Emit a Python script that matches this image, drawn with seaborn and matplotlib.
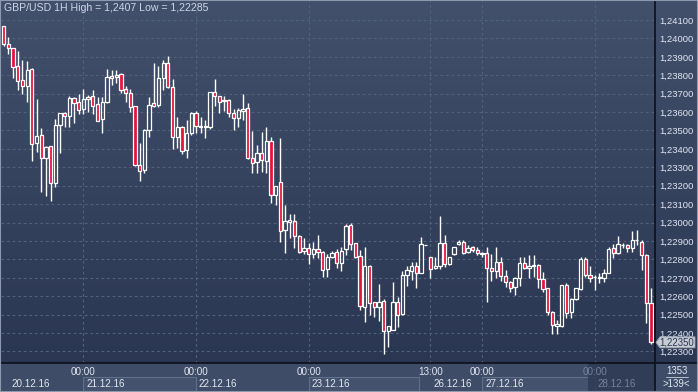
import numpy as np
import pandas as pd
import matplotlib
matplotlib.use("Agg")
import matplotlib.pyplot as plt
import seaborn as sns
from matplotlib.patches import Rectangle, Polygon
from matplotlib.lines import Line2D

# ---------------- data (GBP/USD, 1H candles) ----------------
opens = [1.24065, 1.23968, 1.23946, 1.23852, 1.23773, 1.23740, 1.23834, 1.23430, 1.23476, 1.23349,
         1.23416, 1.23213, 1.23530, 1.23595, 1.23577, 1.23675, 1.23653, 1.23615, 1.23671, 1.23687,
         1.23642, 1.23561, 1.23656, 1.23798, 1.23792, 1.23807, 1.23724, 1.23702, 1.23633, 1.23313,
         1.23285, 1.23503, 1.23651, 1.23638, 1.23783, 1.23865, 1.23735, 1.23463, 1.23521, 1.23394,
         1.23488, 1.23593, 1.23521, 1.23517, 1.23521, 1.23707, 1.23687, 1.23660, 1.23666, 1.23597,
         1.23566, 1.23608, 1.23620, 1.23349, 1.23327, 1.23379, 1.23336, 1.23443, 1.23150, 1.23219,
         1.22960, 1.23005, 1.23009, 1.22927, 1.22846, 1.22864, 1.22828, 1.22855, 1.22839, 1.22748,
         1.22815, 1.22839, 1.22782, 1.22857, 1.22987, 1.22888, 1.22820, 1.22543, 1.22766, 1.22567,
         1.22543, 1.22574, 1.22411, 1.22417, 1.22570, 1.22502, 1.22715, 1.22737, 1.22766, 1.22728,
         1.22876, 1.22811, 1.22752, 1.22764, 1.22891, 1.22774, 1.22828, 1.22882, 1.22896, 1.22839,
         1.22866, 1.22851, 1.22828, 1.22833, 1.22755, 1.22737, 1.22784, 1.22711, 1.22676, 1.22649,
         1.22701, 1.22779, 1.22755, 1.22765, 1.22770, 1.22694, 1.22643, 1.22516, 1.22440, 1.22440,
         1.22661, 1.22516, 1.22583, 1.22639, 1.22802, 1.22715, 1.22705, 1.22701, 1.22697, 1.22728,
         1.22860, 1.22833, 1.22876, 1.22878, 1.22864, 1.22903, 1.22896, 1.22824, 1.22562]
highs = [1.24070, 1.24008, 1.23950, 1.23932, 1.23883, 1.23877, 1.23838, 1.23669, 1.23512, 1.23415,
         1.23418, 1.23562, 1.23595, 1.23602, 1.23687, 1.23684, 1.23698, 1.23725, 1.23693, 1.23720,
         1.23684, 1.23684, 1.23832, 1.23829, 1.23829, 1.23814, 1.23742, 1.23724, 1.23635, 1.23430,
         1.23506, 1.23684, 1.23868, 1.23850, 1.23883, 1.23905, 1.23778, 1.23575, 1.23524, 1.23557,
         1.23602, 1.23608, 1.23575, 1.23557, 1.23708, 1.23780, 1.23690, 1.23687, 1.23671, 1.23615,
         1.23620, 1.23698, 1.23648, 1.23497, 1.23421, 1.23490, 1.23521, 1.23466, 1.23200, 1.23458,
         1.23095, 1.23045, 1.23045, 1.22933, 1.22915, 1.22888, 1.22896, 1.22933, 1.22846, 1.22828,
         1.22846, 1.22857, 1.22869, 1.22991, 1.22996, 1.22891, 1.22851, 1.22869, 1.22770, 1.22569,
         1.22665, 1.22585, 1.22441, 1.22676, 1.22598, 1.22737, 1.22766, 1.22788, 1.22788, 1.22923,
         1.22880, 1.22813, 1.22815, 1.23037, 1.22933, 1.22814, 1.22867, 1.22905, 1.22905, 1.22878,
         1.22875, 1.22869, 1.22842, 1.22869, 1.22828, 1.22869, 1.22815, 1.22742, 1.22683, 1.22706,
         1.22815, 1.22815, 1.22824, 1.22824, 1.22774, 1.22730, 1.22645, 1.22520, 1.22471, 1.22662,
         1.22670, 1.22590, 1.22645, 1.22815, 1.22815, 1.22764, 1.22715, 1.22725, 1.22748, 1.22869,
         1.22882, 1.22929, 1.22888, 1.22882, 1.22954, 1.22960, 1.22905, 1.22828, 1.22643]
lows = [1.23959, 1.23914, 1.23787, 1.23720, 1.23700, 1.23653, 1.23336, 1.23385, 1.23168, 1.23144,
        1.23119, 1.23195, 1.23376, 1.23521, 1.23521, 1.23539, 1.23591, 1.23588, 1.23602, 1.23588,
        1.23552, 1.23488, 1.23648, 1.23747, 1.23756, 1.23705, 1.23656, 1.23602, 1.23307, 1.23227,
        1.23268, 1.23466, 1.23626, 1.23626, 1.23720, 1.23729, 1.23400, 1.23403, 1.23372, 1.23349,
        1.23476, 1.23485, 1.23485, 1.23461, 1.23507, 1.23635, 1.23593, 1.23606, 1.23575, 1.23503,
        1.23517, 1.23557, 1.23345, 1.23271, 1.23271, 1.23276, 1.23271, 1.23108, 1.23095, 1.22893,
        1.22833, 1.22916, 1.22860, 1.22833, 1.22828, 1.22775, 1.22806, 1.22806, 1.22703, 1.22706,
        1.22806, 1.22755, 1.22737, 1.22824, 1.22851, 1.22806, 1.22525, 1.22462, 1.22498, 1.22489,
        1.22466, 1.22285, 1.22326, 1.22414, 1.22435, 1.22500, 1.22657, 1.22688, 1.22646, 1.22725,
        1.22876, 1.22697, 1.22748, 1.22748, 1.22760, 1.22770, 1.22826, 1.22878, 1.22828, 1.22833,
        1.22842, 1.22824, 1.22815, 1.22570, 1.22683, 1.22697, 1.22683, 1.22652, 1.22625, 1.22607,
        1.22657, 1.22748, 1.22697, 1.22706, 1.22643, 1.22625, 1.22498, 1.22393, 1.22393, 1.22435,
        1.22484, 1.22484, 1.22580, 1.22634, 1.22706, 1.22679, 1.22634, 1.22670, 1.22679, 1.22725,
        1.22806, 1.22828, 1.22864, 1.22839, 1.22839, 1.22878, 1.22743, 1.22453, 1.22339]
closes = [1.23968, 1.23946, 1.23846, 1.23767, 1.23740, 1.23829, 1.23425, 1.23470, 1.23349, 1.23412,
          1.23213, 1.23530, 1.23593, 1.23577, 1.23675, 1.23648, 1.23613, 1.23669, 1.23684, 1.23635,
          1.23553, 1.23656, 1.23789, 1.23783, 1.23801, 1.23720, 1.23702, 1.23629, 1.23313, 1.23282,
          1.23503, 1.23638, 1.23633, 1.23783, 1.23865, 1.23735, 1.23463, 1.23521, 1.23390, 1.23488,
          1.23593, 1.23524, 1.23524, 1.23524, 1.23707, 1.23687, 1.23653, 1.23666, 1.23593, 1.23566,
          1.23611, 1.23615, 1.23349, 1.23322, 1.23379, 1.23340, 1.23443, 1.23150, 1.23199, 1.22954,
          1.23009, 1.23014, 1.22927, 1.22842, 1.22860, 1.22828, 1.22857, 1.22842, 1.22743, 1.22813,
          1.22833, 1.22779, 1.22847, 1.22983, 1.22882, 1.22815, 1.22547, 1.22766, 1.22562, 1.22540,
          1.22567, 1.22411, 1.22440, 1.22570, 1.22498, 1.22715, 1.22741, 1.22766, 1.22725, 1.22882,
          1.22880, 1.22748, 1.22764, 1.22888, 1.22774, 1.22813, 1.22866, 1.22896, 1.22833, 1.22860,
          1.22851, 1.22833, 1.22833, 1.22752, 1.22737, 1.22784, 1.22710, 1.22676, 1.22643, 1.22701,
          1.22779, 1.22752, 1.22764, 1.22767, 1.22692, 1.22638, 1.22513, 1.22444, 1.22448, 1.22661,
          1.22511, 1.22583, 1.22643, 1.22802, 1.22715, 1.22697, 1.22707, 1.22706, 1.22728, 1.22857,
          1.22833, 1.22882, 1.22880, 1.22860, 1.22905, 1.22907, 1.22824, 1.22562, 1.22350]

price_ticks = [1.241, 1.240, 1.239, 1.238, 1.237, 1.236, 1.235, 1.234, 1.233, 1.232,
               1.231, 1.230, 1.229, 1.228, 1.227, 1.226, 1.225, 1.224, 1.223]
grid_idx = [17, 41, 65, 91, 102, 126]
time_labels = ["00:00", "00:00", "00:00", "13:00", "00:00", "00:00"]
date_labels = ["20.12.16", "21.12.16", "22.12.16", "23.12.16", "26.12.16", "27.12.16", "28.12.16"]
date_starts = [1, 17, 41, 65, 91, 102, 126]
date_ends = [17, 41, 65, 88.5, 102, 126, 138.87]
boxed_dates = [False, True, False, True, False, True, False]
title_text = "GBP/USD 1H High = 1,2407 Low = 1,22285"
counter_top = "1353"
counter_bottom = ">139<"

df = pd.DataFrame({"open": opens, "high": highs, "low": lows, "close": closes})
df["idx"] = np.arange(len(df))

# ---------------- style ----------------
sns.set_theme(style="dark")
plt.rcParams["font.family"] = ["Liberation Sans", "DejaVu Sans"]

W, H = 698, 392
fig = plt.figure(figsize=(W / 100, H / 100), dpi=100)
fig.patch.set_facecolor("#34415c")

def fx(px):
    return px / W

def fy(py):
    return 1 - py / H

# full-figure background gradient
bg = fig.add_axes([0, 0, 1, 1], zorder=0)
grad = np.linspace(0, 1, 256).reshape(-1, 1)
top = np.array([66, 80, 108]) / 255
bot = np.array([40, 52, 80]) / 255
img = top[None, None, :] * (1 - grad[:, :, None]) + bot[None, None, :] * grad[:, :, None]
bg.imshow(img, aspect="auto", extent=[0, 1, 0, 1], origin="upper")
bg.set_xlim(0, 1)
bg.set_ylim(0, 1)
bg.axis("off")

# main axis
plot_left, plot_right, plot_top, plot_bottom = 1, 655, 0, 363
ax = fig.add_axes([fx(plot_left), fy(plot_bottom), fx(plot_right - plot_left),
                   (plot_bottom - plot_top) / H], zorder=2)
ax.set_facecolor("none")
ax.set_xlim(-0.576, 138.87)
ax.set_ylim(1.222375, 1.242086)

grid_col = "#52617c"
for p in price_ticks:
    ax.axhline(p, color=grid_col, lw=0.8, ls=(0, (2.5, 2.5)), zorder=1)
for g in grid_idx:
    ax.axvline(g, color=grid_col, lw=0.8, ls=(0, (2.5, 2.5)), zorder=1)

red = "#e5123b"
up = df["close"] >= df["open"]
body_top = df[["open", "close"]].max(axis=1)
body_bot = df[["open", "close"]].min(axis=1)
ax.vlines(df["idx"], body_top, df["high"], color="white", lw=1.0, zorder=3)
ax.vlines(df["idx"], df["low"], body_bot, color="white", lw=1.0, zorder=3)
ax.bar(df["idx"][up], (body_top - body_bot)[up], bottom=body_bot[up], width=0.7,
       facecolor="none", edgecolor="white", linewidth=0.9, zorder=4)
ax.bar(df["idx"][~up], (body_top - body_bot)[~up], bottom=body_bot[~up], width=0.7,
       facecolor=red, edgecolor="white", linewidth=0.9, zorder=4)

ax.set_xticks([])
ax.yaxis.tick_right()
ax.set_yticks(price_ticks)
ax.set_yticklabels([f"{p:.5f}".replace(".", ",") for p in price_ticks],
                   fontsize=6.8, color="#e1e7f0")
ax.tick_params(axis="y", length=0, pad=3)
for s in ax.spines.values():
    s.set_visible(False)
ax.grid(False)

# title
fig.text(fx(4), fy(8), title_text, fontsize=7.6, color="#cdd6e6", ha="left", va="center", zorder=10)

# bottom strip
strip_col = "#3e4c68"
fig.patches.append(Rectangle((0, 0), 1, (H - plot_bottom) / H, transform=fig.transFigure,
                             facecolor=strip_col, edgecolor="none", zorder=1))
xpx = lambda i: 3.7 + i * 4.69
for lab, s, e, boxed in zip(date_labels, date_starts, date_ends, boxed_dates):
    x0 = max(xpx(s), 1)
    x1 = min(xpx(e), plot_right)
    if boxed:
        fig.patches.append(Rectangle((fx(x0), fy(391)), fx(x1 - x0), 14 / H,
                                     transform=fig.transFigure, facecolor="#44526e",
                                     edgecolor="#5f6f8c", lw=0.8, zorder=3))
    if lab == date_labels[-1]:
        fig.patches.append(Rectangle((fx(x0 - 7), 0), fx(plot_right - x0 + 7), (H - plot_bottom) / H,
                                     transform=fig.transFigure, facecolor="#2f3b55",
                                     edgecolor="none", alpha=0.85, zorder=4))
        col = "#77839a"
    else:
        col = "#e3e8f0"
    fig.text(fx(x0 + 3), fy(384), lab, fontsize=7.1, color=col, ha="left", va="center", zorder=6)
for g, t in zip(grid_idx, time_labels):
    col = "#77839a" if g == grid_idx[-1] else "#e3e8f0"
    fig.text(fx(xpx(g)), fy(372), t, fontsize=7.1, color=col, ha="center", va="center", zorder=6)

# separators
fig.lines.append(Line2D([0, 1], [fy(plot_bottom), fy(plot_bottom)], transform=fig.transFigure,
                        color="#0b0f18", lw=1.2, zorder=8))
fig.lines.append(Line2D([fx(plot_right), fx(plot_right)], [0, 1], transform=fig.transFigure,
                        color="#0b0f18", lw=1.2, zorder=8))

# corner counter
fig.text(fx(677), fy(371), counter_top, fontsize=6.9, color="#e3e8f0", ha="center", va="center", zorder=9)
fig.lines.append(Line2D([fx(666), fx(688)], [fy(377), fy(377)], transform=fig.transFigure,
                        color="#c8d0de", lw=0.6, zorder=9))
fig.text(fx(676), fy(384), counter_bottom, fontsize=6.9, color="#e3e8f0", ha="center", va="center", zorder=9)

# last price marker
last_price = closes[-1]
ly = 20 + (1.241 - last_price) / 0.001 * 18.42
poly = Polygon([[fx(656), fy(ly)], [fx(660), fy(ly - 5.5)], [fx(695), fy(ly - 5.5)],
                [fx(695), fy(ly + 5.5)], [fx(660), fy(ly + 5.5)]], closed=True,
               transform=fig.transFigure, facecolor="#c6cbd4", edgecolor="#9aa2b0", lw=0.6, zorder=9)
fig.patches.append(poly)
fig.text(fx(677), fy(ly), f"{last_price:.5f}".replace(".", ","), fontsize=6.9, color="#2b3550",
         ha="center", va="center", zorder=10)

# outer border
fig.patches.append(Rectangle((0, 0), 1, 1, transform=fig.transFigure, facecolor="none",
                             edgecolor="#8e99ad", lw=1.5, zorder=11))

fig.savefig("out.png", dpi=100)
